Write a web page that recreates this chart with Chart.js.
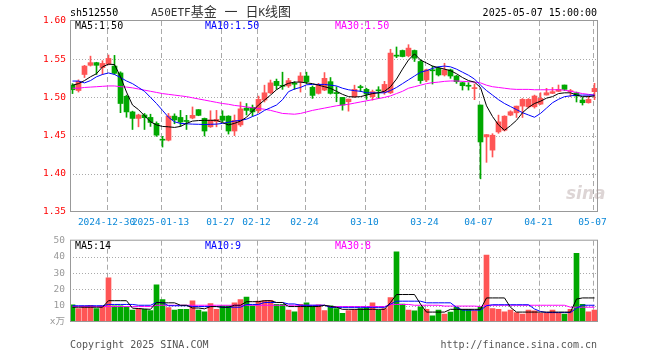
<!DOCTYPE html>
<html>
<head>
<meta charset="utf-8">
<script src="https://cdn.jsdelivr.net/npm/chart.js@4.4.0/dist/chart.umd.min.js"></script>
<style>
  body { margin: 0; background: #fff; width: 660px; height: 360px; position: relative; overflow: hidden; font-family: "DejaVu Sans Mono", monospace; }
  canvas { position: absolute; left: 0; }
  .t { position: absolute; font-size: 10px; line-height: 12px; white-space: pre; color: #000; }
</style>
</head>
<body>
<canvas id="kline" width="660" height="230" style="top:0"></canvas>
<canvas id="vol" width="660" height="130" style="top:230px"></canvas>

<div class="t" style="left:70px;top:7px">sh512550</div>
<div class="t" style="left:151px;top:5px;font-size:13px;line-height:14px;color:#333;font-family:'DejaVu Sans Mono','Noto Sans CJK SC',monospace"><span style="font-size:11px">A50ETF</span>基金 一 日<span style="font-size:11px">K</span>线图</div>
<div class="t" style="right:63px;top:7px">2025-05-07 15:00:00</div>

<div class="t" style="left:75px;top:20px">MA5:1.50</div>
<div class="t" style="left:205px;top:20px;color:#0000ff">MA10:1.50</div>
<div class="t" style="left:335px;top:20px;color:#ff00ff">MA30:1.50</div>

<div class="t" style="left:75px;top:240px">MA5:14</div>
<div class="t" style="left:205px;top:240px;color:#0000ff">MA10:9</div>
<div class="t" style="left:335px;top:240px;color:#ff00ff">MA30:8</div>

<div class="t" style="left:70px;top:339px;color:#555">Copyright 2025 SINA.COM</div>
<div class="t" style="right:63px;top:339px;color:#555">http://finance.sina.com.cn</div>
<div class="t" style="left:566px;top:183px;font:italic bold 17px 'DejaVu Sans',sans-serif;color:rgba(170,150,150,0.4)">sina</div>

<script>
// ------------------ Data ------------------
const tickIdx = [6, 15, 25, 31, 39, 49, 59, 68, 78, 87];
const tickLabels = ["2024-12-30", "2025-01-13", "01-27", "02-12", "02-24", "03-10", "03-24", "04-07", "04-21", "05-07"];
const priceTicks = [1.35, 1.40, 1.45, 1.50, 1.55, 1.60];
const volTicks = [0, 10, 20, 30, 40, 50];

const opens = [1.516, 1.509, 1.530, 1.542, 1.5455, 1.539, 1.5435, 1.541, 1.532, 1.5015,
  1.481, 1.4725, 1.477, 1.4738, 1.466, 1.4445, 1.444, 1.4755, 1.4738, 1.469,
  1.473, 1.484, 1.4725, 1.4615, 1.4685, 1.4755, 1.4755, 1.456, 1.464, 1.486,
  1.487, 1.4825, 1.4965, 1.506, 1.521, 1.515, 1.515, 1.5178, 1.5206, 1.528,
  1.5132, 1.5053, 1.5096, 1.5206, 1.5057, 1.500, 1.4943, 1.5009, 1.5132, 1.5105,
  1.5009, 1.5090, 1.507, 1.506, 1.555, 1.5614, 1.5544, 1.5614, 1.547, 1.5228,
  1.5355, 1.538, 1.5294, 1.536, 1.528, 1.5193, 1.5151, 1.5115, 1.490, 1.4483,
  1.431, 1.4548, 1.457, 1.4768, 1.4798, 1.4886, 1.4877, 1.4877, 1.4912, 1.5031,
  1.5053, 1.5079, 1.5162, 1.5075, 1.506, 1.4965, 1.493, 1.5075];
const closes = [1.510, 1.521, 1.541, 1.5455, 1.542, 1.5445, 1.551, 1.5315, 1.492, 1.481,
  1.4725, 1.477, 1.4735, 1.4672, 1.4506, 1.444, 1.4755, 1.4705, 1.4677, 1.4685,
  1.4765, 1.4765, 1.456, 1.4703, 1.4712, 1.470, 1.456, 1.470, 1.485, 1.483,
  1.481, 1.4974, 1.506, 1.519, 1.5155, 1.5145, 1.522, 1.5172, 1.528, 1.5206,
  1.5026, 1.5162, 1.525, 1.5053, 1.505, 1.490, 1.4978, 1.5105, 1.5128, 1.5044,
  1.5075, 1.5086, 1.517, 1.558, 1.554, 1.5535, 1.5645, 1.5513, 1.522, 1.536,
  1.5348, 1.5294, 1.536, 1.528, 1.5206, 1.5153, 1.5146, 1.5122, 1.4417, 1.4513,
  1.4505, 1.468, 1.4754, 1.4812, 1.4886, 1.4974, 1.4974, 1.5018, 1.4987, 1.5061,
  1.5075, 1.5105, 1.5105, 1.5085, 1.5018, 1.493, 1.4974, 1.5118];
const highs = [1.518, 1.523, 1.542, 1.554, 1.546, 1.548, 1.5555, 1.555, 1.5335, 1.503,
  1.482, 1.478, 1.479, 1.478, 1.468, 1.449, 1.479, 1.4785, 1.483, 1.4765,
  1.4875, 1.484, 1.473, 1.4825, 1.483, 1.4825, 1.476, 1.477, 1.494, 1.492,
  1.490, 1.5017, 1.516, 1.5227, 1.524, 1.533, 1.525, 1.5206, 1.5325, 1.533,
  1.515, 1.5184, 1.5325, 1.526, 1.514, 1.500, 1.4978, 1.516, 1.516, 1.512,
  1.5096, 1.514, 1.521, 1.563, 1.566, 1.562, 1.569, 1.562, 1.549, 1.537,
  1.541, 1.540, 1.5447, 1.537, 1.529, 1.520, 1.5193, 1.5175, 1.490, 1.4513,
  1.4525, 1.4768, 1.476, 1.4825, 1.4886, 1.4985, 1.4985, 1.503, 1.5061, 1.5118,
  1.513, 1.5162, 1.5162, 1.5105, 1.507, 1.500, 1.502, 1.5184];
const lows = [1.505, 1.507, 1.526, 1.541, 1.530, 1.530, 1.5425, 1.530, 1.480, 1.474,
  1.458, 1.4615, 1.458, 1.462, 1.449, 1.435, 1.443, 1.4655, 1.462, 1.458,
  1.472, 1.476, 1.4495, 1.4607, 1.4615, 1.468, 1.452, 1.450, 1.462, 1.477,
  1.4755, 1.480, 1.494, 1.505, 1.5105, 1.5105, 1.513, 1.5105, 1.507, 1.518,
  1.4987, 1.5044, 1.5088, 1.5044, 1.4943, 1.4833, 1.482, 1.500, 1.5075, 1.4974,
  1.4965, 1.4987, 1.504, 1.505, 1.552, 1.553, 1.553, 1.547, 1.5184, 1.5206,
  1.5175, 1.528, 1.528, 1.525, 1.5184, 1.5096, 1.5096, 1.497, 1.3934, 1.415,
  1.422, 1.453, 1.456, 1.476, 1.4737, 1.4737, 1.486, 1.486, 1.4905, 1.503,
  1.505, 1.5075, 1.509, 1.501, 1.494, 1.490, 1.4925, 1.497];

const ma5 = [1.516, 1.518, 1.522, 1.527, 1.531, 1.540, 1.5435, 1.543, 1.527, 1.507,
  1.490, 1.484, 1.476, 1.468, 1.464, 1.462, 1.4615, 1.4607, 1.462, 1.466,
  1.469, 1.4697, 1.470, 1.470, 1.470, 1.467, 1.464, 1.466, 1.469, 1.474,
  1.482, 1.490, 1.4965, 1.503, 1.510, 1.515, 1.5184, 1.520, 1.520, 1.519,
  1.518, 1.516, 1.514, 1.5118, 1.508, 1.504, 1.501, 1.5005, 1.501, 1.503,
  1.505, 1.506, 1.508, 1.514, 1.524, 1.537, 1.549, 1.557, 1.549, 1.545,
  1.541, 1.539, 1.537, 1.535, 1.531, 1.526, 1.522, 1.520, 1.513, 1.489,
  1.475, 1.464, 1.457, 1.463, 1.470, 1.480, 1.487, 1.492, 1.495, 1.499,
  1.501, 1.505, 1.506, 1.506, 1.503, 1.501, 1.501, 1.502];
const ma10 = [1.5214, 1.5214, 1.519, 1.522, 1.527, 1.530, 1.532, 1.530, 1.526, 1.5215,
  1.518, 1.513, 1.508, 1.500, 1.492, 1.483, 1.474, 1.468, 1.466, 1.4655,
  1.465, 1.4648, 1.4645, 1.4648, 1.465, 1.466, 1.4675, 1.469, 1.470, 1.4715,
  1.475, 1.478, 1.483, 1.4865, 1.490, 1.497, 1.5075, 1.511, 1.513, 1.5165,
  1.517, 1.517, 1.517, 1.516, 1.515, 1.512, 1.510, 1.5088, 1.508, 1.506,
  1.506, 1.506, 1.506, 1.509, 1.513, 1.518, 1.523, 1.528, 1.533, 1.535,
  1.538, 1.540, 1.541, 1.540, 1.537, 1.533, 1.529, 1.524, 1.516, 1.509,
  1.503, 1.497, 1.492, 1.488, 1.484, 1.480, 1.477, 1.474, 1.479, 1.486,
  1.493, 1.4975, 1.501, 1.502, 1.503, 1.503, 1.503, 1.503];
const ma30 = [1.512, 1.512, 1.513, 1.5135, 1.514, 1.5145, 1.515, 1.515, 1.514, 1.5135,
  1.5125, 1.511, 1.5095, 1.508, 1.5065, 1.505, 1.504, 1.503, 1.502, 1.501,
  1.4995, 1.498, 1.4965, 1.495, 1.4935, 1.492, 1.491, 1.4895, 1.4886, 1.4875,
  1.4865, 1.4855, 1.4845, 1.483, 1.481, 1.479, 1.4785, 1.478, 1.479, 1.481,
  1.483, 1.4845, 1.486, 1.4875, 1.489, 1.490, 1.491, 1.4925, 1.494, 1.4955,
  1.497, 1.4985, 1.500, 1.502, 1.505, 1.508, 1.512, 1.514, 1.516, 1.518,
  1.5193, 1.520, 1.521, 1.5215, 1.5215, 1.521, 1.5206, 1.520, 1.519, 1.516,
  1.514, 1.513, 1.512, 1.511, 1.5105, 1.5105, 1.5105, 1.510, 1.510, 1.510,
  1.510, 1.510, 1.5095, 1.508, 1.5065, 1.505, 1.504, 1.503];

const volumes = [10.6, 8.3, 9.8, 10.3, 8.3, 9.8, 27.2, 10, 10, 9.3,
  7.3, 8.3, 7.8, 7, 22.8, 13.8, 8.8, 7.3, 7.8, 7.8,
  13, 7.3, 6.3, 11.3, 7.8, 10, 10, 11.8, 13.8, 15.3,
  10, 12.8, 13.1, 13.3, 10.8, 10.8, 7.3, 6.3, 10.8, 11.8,
  9.8, 10.6, 7, 10, 8.3, 5.3, 7, 7.6, 8.3, 8.8,
  11.8, 7.3, 8.3, 15, 43.2, 11, 7.3, 6.8, 9.3, 7.8,
  3.8, 7.3, 4.8, 6.1, 9.1, 7.8, 7.8, 7.1, 9.1, 41.2,
  8.3, 7.8, 6.3, 7.3, 5.8, 4.8, 7.3, 6.8, 5.3, 5.3,
  7.3, 5.3, 4.8, 7.8, 42.2, 10.8, 6.3, 7.3];
const volMa5 = [9.1, 9.1, 9.1, 9.1, 9.1, 9.1, 13.1, 13.1, 13.1, 13.1,
  8.5, 8.3, 8.0, 7.8, 12, 11.8, 11.8, 11.8, 10.3, 10.3,
  8.6, 8.6, 8.1, 9.5, 9.5, 9.1, 9.1, 10.3, 10.3, 12.5,
  12.5, 12.5, 13.1, 13.1, 12, 12, 9.5, 9.5, 9.5, 9.5,
  9.5, 9.5, 10.3, 9.6, 9.1, 7.8, 7.8, 7.8, 7.8, 7.8,
  7.8, 7.8, 7.8, 12, 16.9, 16.9, 16.9, 16.9, 11, 6.1,
  6.1, 6.1, 6.1, 7.8, 7.8, 7.8, 7.8, 7.8, 7.8, 14.8,
  14.8, 14.8, 14.8, 9, 6.1, 6.1, 6.1, 6.1, 6.1, 6.1,
  6.1, 6.1, 6.1, 6.1, 14.1, 14.8, 14.8, 14.8];
const volMa10 = [10, 10, 10, 10, 10, 10, 10.8, 10.8, 10.8, 10.8,
  10.8, 10.3, 10.3, 10.3, 12, 12, 10, 10, 10, 10,
  9.5, 9.5, 9.5, 9.5, 9.5, 9.1, 9.1, 9.1, 9.1, 10.8,
  10.8, 10.8, 12, 12, 12, 12, 11.1, 11.1, 10.3, 10.3,
  10.3, 10.3, 10.3, 9, 9, 9, 9, 9, 9, 9,
  9, 9, 9, 11, 12.8, 12.8, 12.8, 12.8, 12.8, 11.8,
  11.8, 11.8, 11.8, 11.8, 9, 7.3, 7.3, 7.3, 7.3, 10,
  10.6, 10.6, 10.6, 10.6, 10.6, 10.6, 10.6, 8, 6.5, 5.8,
  5.8, 5.8, 5.8, 5.8, 8.5, 10.3, 10.3, 10.3];
const volMa30 = [9.5, 9.5, 9.5, 9.5, 9.5, 9.5, 9.5, 9.5, 9.5, 9.5,
  9.5, 9.5, 9.5, 9.5, 10.3, 10.3, 10.3, 10.3, 10.3, 10.3,
  10.3, 10.3, 10.3, 10.3, 10.3, 10.3, 10.3, 10.3, 10.3, 10.3,
  10.3, 10.3, 10.3, 10.3, 10.3, 10.3, 10.3, 10.3, 10.3, 10.3,
  10.3, 10.3, 10.3, 9.5, 9.5, 9.5, 9.5, 9.5, 9.5, 9.5,
  9.5, 9.5, 9.5, 10.8, 10.8, 10.8, 10.8, 10.3, 10.3, 10.3,
  10.3, 10.3, 9.8, 9.8, 9.8, 9.8, 9.8, 9.8, 9.5, 10.3,
  10.3, 10.3, 10.3, 10.3, 10.3, 10.3, 10.3, 10.3, 10.3, 10.3,
  10.3, 10.3, 10.3, 9.1, 9.1, 9.1, 9.1, 9.1];

// ------------------ Helpers ------------------
const UP = "#ff5555", DOWN = "#00a800";
const idx = closes.map((_, i) => i);
const candleColors = idx.map(i => closes[i] >= opens[i] ? UP : DOWN);
const xMin = -2.5 / 6, xMax = xMin + 88;   // 6px per trading day
const fontFamily = "'DejaVu Sans Mono','Noto Sans CJK SC',monospace";
const axisFont = { family: fontFamily, size: 9.5 };

Chart.defaults.font.family = fontFamily;
Chart.defaults.animation = false;

function maLine(values, color) {
  return {
    type: "line",
    data: values.map((v, i) => ({ x: i, y: v })),
    borderColor: color,
    borderWidth: 1,
    pointRadius: 0,
    tension: 0,
    order: 0
  };
}

// dotted horizontal grid, dashed date lines and the grey frame
const framePlugin = {
  id: "sinaFrame",
  beforeDatasetsDraw(chart, args, opts) {
    const { ctx, chartArea: a, scales: { x, y } } = chart;
    ctx.save();
    ctx.lineWidth = 1;
    ctx.strokeStyle = "#aaa";
    ctx.setLineDash([1, 2]);
    opts.hLines.forEach(v => {
      const py = Math.round(y.getPixelForValue(v)) + 0.5;
      ctx.beginPath(); ctx.moveTo(a.left, py); ctx.lineTo(a.right, py); ctx.stroke();
    });
    ctx.setLineDash([5, 3]);
    tickIdx.forEach(i => {
      const px = Math.round(x.getPixelForValue(i - 1 / 3)) + 0.5;
      ctx.beginPath(); ctx.moveTo(px, a.top); ctx.lineTo(px, a.bottom); ctx.stroke();
    });
    ctx.restore();
  },
  afterDraw(chart) {
    const { ctx, chartArea: a } = chart;
    ctx.save();
    ctx.strokeStyle = "#999";
    ctx.lineWidth = 1;
    ctx.strokeRect(a.left + 0.5, a.top - 0.5, a.right - a.left - 1, a.bottom - a.top);
    ctx.restore();
  }
};

const xAxis = (showLabels) => ({
  type: "linear",
  min: xMin,
  max: xMax,
  offset: false,
  display: showLabels,
  afterBuildTicks: s => { s.ticks = tickIdx.map(i => ({ value: i - 1 / 3 })); },
  afterFit: s => { s.height = 18; },
  grid: { display: false, drawTicks: false, offset: false },
  border: { display: false },
  ticks: {
    autoSkip: false, maxRotation: 0, padding: 5,
    color: "#0a88d8", font: axisFont,
    callback: (v, k) => tickLabels[k]
  }
});

// ------------------ K-line chart ------------------
new Chart(document.getElementById("kline"), {
  type: "bar",
  data: {
    datasets: [
      maLine(ma5, "#000000"),
      maLine(ma10, "#0000ff"),
      maLine(ma30, "#ff00ff"),
      {
        data: idx.map(i => ({ x: i, y: [opens[i], closes[i]] })),
        backgroundColor: candleColors,
        barThickness: 5, minBarLength: 1, grouped: false, borderWidth: 0, order: 1
      },
      {
        data: idx.map(i => ({ x: i, y: [lows[i], highs[i]] })),
        backgroundColor: candleColors,
        barThickness: 1, grouped: false, borderWidth: 0, order: 2
      }
    ]
  },
  options: {
    responsive: false,
    devicePixelRatio: 1,
    events: [],
    layout: { padding: { top: 21, right: 62, left: 0, bottom: 0 } },
    plugins: { legend: { display: false }, tooltip: { enabled: false }, sinaFrame: { hLines: [1.40, 1.45, 1.50, 1.55] } },
    scales: {
      x: xAxis(true),
      y: {
        min: 1.35, max: 1.60,
        afterBuildTicks: s => { s.ticks = priceTicks.map(v => ({ value: v })); },
        afterFit: s => { s.width = 70; },
        grid: { display: false, drawTicks: false },
        border: { display: false },
        ticks: { color: "#ff0000", padding: 4, font: axisFont, callback: v => v.toFixed(2) }
      }
    }
  },
  plugins: [framePlugin]
});

// ------------------ Volume chart ------------------
new Chart(document.getElementById("vol"), {
  type: "bar",
  data: {
    datasets: [
      maLine(volMa5, "#000000"),
      maLine(volMa10, "#0000ff"),
      maLine(volMa30, "#ff00ff"),
      {
        data: idx.map(i => ({ x: i, y: volumes[i] })),
        backgroundColor: candleColors,
        barThickness: 5, grouped: false, borderWidth: 0, order: 1
      }
    ]
  },
  options: {
    responsive: false,
    devicePixelRatio: 1,
    events: [],
    layout: { padding: { top: 10, right: 62, left: 0, bottom: 20 } },
    plugins: { legend: { display: false }, tooltip: { enabled: false }, sinaFrame: { hLines: [10, 20, 30, 40] } },
    scales: {
      x: xAxis(false),
      y: {
        min: 0, max: 50,
        afterBuildTicks: s => { s.ticks = volTicks.map(v => ({ value: v })); },
        afterFit: s => { s.width = 70; },
        grid: { display: false, drawTicks: false },
        border: { display: false },
        ticks: { color: "#999", padding: 5, font: axisFont, callback: v => v === 0 ? "x万" : String(v) }
      }
    }
  },
  plugins: [framePlugin]
});
</script>
</body>
</html>
